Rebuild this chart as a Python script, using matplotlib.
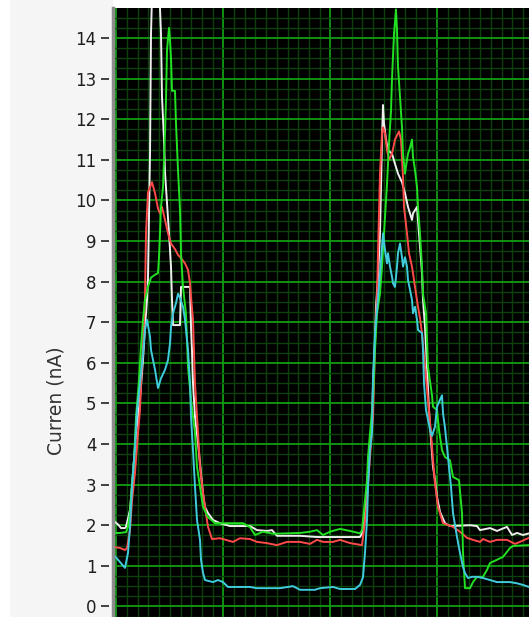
import numpy as np
import matplotlib
matplotlib.use("Agg")
import matplotlib.pyplot as plt
from matplotlib.patches import Rectangle
from matplotlib.ticker import FixedLocator

# ---- data (sample index, current in nA) ----
white_t = [0, 5, 8, 12, 13, 17, 20, 23, 27, 30, 32, 34, 35, 37, 38, 40, 45, 48, 49, 51, 52, 54, 56, 58, 59, 60,
           67, 68, 77, 78, 79, 80, 82, 85, 88, 90, 92, 95, 100, 107, 117, 137, 144, 154, 159, 164, 187, 204, 247,
           249, 250, 252, 254, 256, 259, 260, 262, 263, 265, 267, 268, 269, 270, 271, 273, 275, 279, 282, 285, 289,
           292, 295, 299, 300, 304, 305, 307, 309, 310, 312, 314, 316, 318, 320, 322, 324, 327, 332, 337, 357, 364,
           367, 377, 384, 394, 399, 404, 410, 416]
white_y = [2.12, 2.02, 1.93, 1.93, 1.96, 2.38, 3.28, 4.27, 5.09, 6.07, 6.88, 7.55, 8.1, 11.1, 14.1, 16.0, 16.0,
           14.1, 12.55, 11.5, 10.7, 9.94, 9.19, 8.37, 7.55, 6.93, 6.93, 7.87, 7.87, 6.9, 6.3, 5.5, 4.67, 4.02, 3.28,
           2.78, 2.45, 2.3, 2.13, 2.05, 1.98, 1.98, 1.88, 1.86, 1.88, 1.74, 1.74, 1.71, 1.71, 1.8, 1.93, 2.3, 2.95,
           3.77, 4.5, 5.5, 6.56, 7.4, 8.1, 9.19, 10.33, 11.5, 12.35, 11.9, 11.5, 11.24, 11.15, 10.9, 10.66, 10.45,
           10.18, 9.84, 9.52, 9.68, 9.84, 9.52, 8.86, 8.2, 7.55, 6.88, 5.9, 4.84, 4.1, 3.44, 3.11, 2.7, 2.33, 2.05,
           1.98, 2.0, 1.98, 1.88, 1.93, 1.86, 1.96, 1.76, 1.81, 1.76, 1.8]

red_t = [0, 7, 12, 14, 17, 19, 22, 25, 27, 28, 30, 32, 33, 35, 39, 42, 45, 47, 49, 52, 55, 58, 62, 65, 68, 72, 75,
         77, 78, 80, 82, 85, 87, 90, 92, 95, 99, 107, 120, 127, 137, 144, 154, 164, 174, 187, 197, 204, 210, 220,
         227, 237, 249, 250, 252, 254, 257, 260, 261, 262, 264, 265, 267, 269, 270, 272, 274, 276, 279, 282, 286,
         288, 290, 291, 294, 296, 299, 302, 305, 307, 309, 312, 315, 318, 320, 322, 325, 330, 340, 347, 354, 360,
         367, 370, 377, 384, 394, 402, 407, 416]
red_y = [1.47, 1.44, 1.39, 1.44, 1.88, 2.6, 3.3, 4.27, 4.84, 5.5, 6.48, 7.6, 9.19, 10.2, 10.45, 10.18, 9.8, 9.68,
         9.84, 9.52, 9.19, 8.94, 8.8, 8.66, 8.58, 8.45, 8.29, 7.96, 7.63, 7.06, 5.5, 4.27, 3.44, 2.8, 2.45, 1.96,
         1.66, 1.68, 1.59, 1.68, 1.66, 1.59, 1.56, 1.51, 1.59, 1.59, 1.54, 1.64, 1.59, 1.59, 1.64, 1.56, 1.51, 1.71,
         2.1, 2.62, 3.68, 4.67, 5.5, 6.48, 7.6, 8.7, 10.66, 11.65, 11.8, 11.65, 11.24, 11.0, 11.15, 11.5, 11.7, 11.5,
         10.58, 9.84, 9.19, 8.7, 8.37, 7.87, 7.38, 7.1, 6.73, 5.9, 5.09, 4.27, 3.6, 3.03, 2.45, 2.05, 1.96, 1.84,
         1.69, 1.64, 1.59, 1.66, 1.59, 1.64, 1.64, 1.54, 1.59, 1.69]

green_t = [0, 7, 13, 15, 17, 19, 21, 23, 26, 28, 30, 32, 35, 38, 42, 45, 46, 47, 48, 50, 52, 53, 54, 56, 57, 58,
           59, 62, 63, 65, 67, 68, 70, 73, 75, 78, 82, 84, 87, 90, 95, 102, 130, 137, 142, 150, 160, 187, 197, 204,
           210, 217, 227, 237, 247, 249, 250, 252, 254, 255, 257, 260, 262, 264, 267, 269, 271, 274, 276, 278, 279,
           281, 283, 284, 285, 287, 289, 290, 292, 294, 295, 297, 299, 300, 302, 304, 305, 307, 309, 310, 313, 314,
           315, 319, 320, 324, 326, 329, 332, 337, 340, 346, 349, 350, 352, 357, 360, 364, 370, 374, 377, 384, 390,
           397, 400, 416]
green_y = [1.81, 1.81, 1.83, 1.96, 2.3, 3.03, 3.6, 4.67, 5.58, 6.4, 7.06, 7.55, 7.87, 8.1, 8.17, 8.21, 8.6, 9.19,
           9.84, 10.33, 11.65, 12.47, 13.7, 14.25, 13.95, 13.5, 12.7, 12.7, 11.9, 10.75, 9.77, 8.7, 7.87, 7.2, 5.9,
           5.09, 4.27, 3.44, 2.95, 2.45, 2.2, 2.05, 2.05, 1.95, 1.76, 1.84, 1.79, 1.81, 1.84, 1.88, 1.76, 1.84, 1.91,
           1.86, 1.8, 1.88, 2.13, 2.62, 3.11, 3.68, 4.27, 5.09, 6.32, 7.22, 7.7, 8.37, 9.19, 10.4, 11.4, 12.2, 13.0,
           14.1, 14.7, 14.2, 13.3, 12.55, 11.8, 11.15, 10.66, 11.0, 11.15, 11.3, 11.5, 11.07, 10.75, 10.33, 9.84,
           9.19, 8.37, 7.7, 7.22, 6.56, 5.9, 5.2, 4.92, 4.84, 4.35, 3.85, 3.68, 3.6, 3.19, 3.11, 2.3, 1.32, 0.45,
           0.45, 0.6, 0.73, 0.73, 0.9, 1.07, 1.15, 1.22, 1.44, 1.49, 1.51]

cyan_t = [0, 5, 12, 15, 17, 19, 22, 24, 27, 30, 32, 34, 37, 38, 42, 45, 48, 52, 55, 57, 58, 60, 63, 65, 67, 70,
          72, 75, 77, 78, 80, 82, 84, 87, 88, 90, 92, 100, 105, 110, 115, 137, 144, 167, 180, 187, 202, 207, 220,
          227, 242, 247, 250, 252, 254, 255, 257, 259, 260, 262, 264, 267, 269, 270, 272, 274, 275, 277, 279, 280,
          282, 284, 285, 287, 289, 290, 292, 294, 295, 297, 299, 300, 302, 304, 305, 309, 310, 311, 313, 315, 317,
          319, 322, 324, 327, 329, 330, 332, 335, 338, 340, 344, 347, 350, 352, 355, 359, 364, 370, 377, 384, 397,
          404, 410, 416]
cyan_y = [1.29, 1.15, 0.95, 1.32, 1.96, 2.95, 3.94, 4.84, 5.5, 6.24, 6.81, 7.06, 6.65, 6.32, 5.83, 5.38, 5.62,
          5.83, 6.07, 6.48, 6.88, 7.22, 7.47, 7.7, 7.6, 7.38, 7.06, 6.32, 5.5, 4.67, 3.85, 2.95, 2.13, 1.64, 1.15,
          0.83, 0.65, 0.6, 0.65, 0.6, 0.48, 0.48, 0.45, 0.45, 0.5, 0.41, 0.41, 0.45, 0.48, 0.43, 0.43, 0.53, 0.72,
          1.32, 2.13, 2.95, 3.85, 4.27, 5.58, 6.73, 7.3, 8.2, 8.86, 9.19, 8.78, 8.45, 8.7, 8.37, 8.12, 7.96, 7.87,
          8.37, 8.7, 8.94, 8.6, 8.37, 8.6, 8.37, 8.04, 7.8, 7.55, 7.22, 7.38, 7.06, 6.81, 6.73, 6.32, 5.5, 4.84,
          4.6, 4.35, 4.2, 4.43, 4.92, 5.09, 5.2, 4.76, 4.4, 3.68, 2.95, 2.3, 1.71, 1.32, 0.97, 0.82, 0.7, 0.73,
          0.73, 0.7, 0.65, 0.6, 0.6, 0.57, 0.53, 0.48]

y_ticks = list(range(0, 15))
y_label = "Curren (nA)"

# ---- figure ----
W, H = 529, 617
fig = plt.figure(figsize=(W / 100, H / 100), dpi=100, facecolor="white")
fig.patches.append(Rectangle((10 / W, 0), (113 - 10) / W, 1, transform=fig.transFigure,
                             facecolor="#f5f5f5", edgecolor="none", zorder=-10))

ax = fig.add_axes([113 / W, 0, 416 / W, 609 / H])
ax.set_facecolor("black")
ax.set_xlim(0, 416)
ax.set_ylim(-0.26, 14.74)

# grid
major_x = np.arange(3.3, 416, 107.0)
minor_x = np.arange(3.3, 416, 10.7)
ax.xaxis.set_major_locator(FixedLocator(major_x))
ax.xaxis.set_minor_locator(FixedLocator(minor_x))
ax.yaxis.set_major_locator(FixedLocator(y_ticks))
ax.yaxis.set_minor_locator(FixedLocator(np.arange(-0.25, 14.8, 0.25)))
ax.grid(which="minor", color="#0b420b", lw=1.0, zorder=0)
ax.grid(which="major", color="#129c12", lw=1.3, zorder=0.5)
ax.set_axisbelow(True)

ax.tick_params(axis="x", which="both", bottom=False, labelbottom=False)
ax.tick_params(axis="y", which="minor", left=False)
ax.tick_params(axis="y", which="major", direction="out", length=6, width=1.3,
               color="#333333", labelsize=12, labelcolor="#1e1e1e", pad=3)

for s in ["top", "right", "bottom"]:
    ax.spines[s].set_visible(False)
ax.spines["left"].set_position(("outward", 3))
ax.spines["left"].set_visible(False)
ax.plot([0, 0], [0, 1], transform=ax.transAxes, color="#8c8c8c", lw=2.5,
        clip_on=False, zorder=10)

ax.set_ylabel(y_label, fontsize=13.5, color="#333333")
ax.yaxis.set_label_coords(-0.113, 0.356)

lw = 1.4
ax.plot(white_t, white_y, color="#eeeeee", lw=lw, zorder=3)
ax.plot(red_t, red_y, color="#ff4a4a", lw=lw, zorder=4)
ax.plot(green_t, green_y, color="#22e022", lw=lw, zorder=5)
ax.plot(cyan_t, cyan_y, color="#40ccdc", lw=lw, zorder=6)

fig.savefig("out.png", dpi=100, facecolor=fig.get_facecolor())
